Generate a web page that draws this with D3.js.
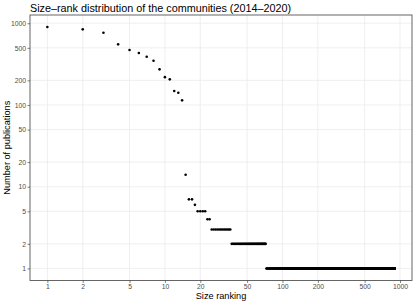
<!DOCTYPE html>
<html>
<head>
<meta charset="utf-8">
<script src="https://cdn.jsdelivr.net/npm/d3@7"></script>
<style>
  body { margin: 0; background: #fff; }
  text { font-family: "Liberation Sans", Arial, sans-serif; }
</style>
</head>
<body>
<div id="chart"></div>
<script>
var w = 415,
	h = 302;

// community sizes of the largest communities, by rank
var topSizes = [898, 842, 765, 552, 470, 432, 389, 348, 273, 219, 206, 148, 141, 114,
	14, 7, 7, 6, 5, 5, 5, 5, 4, 4];
// the small ones: size and how many communities have that size
var smallSizes = [3, 2, 1];
var smallCounts = [12, 36, 828];

var xTicks = [1, 2, 5, 10, 20, 50, 100, 200, 500, 1000];
var yTicks = [1, 2, 5, 10, 20, 50, 100, 200, 500, 1000];

// size-rank table
var data = topSizes.slice();
smallSizes.forEach(function(s, i){
	for (var k = 0; k < smallCounts[i]; k++) data.push(s);
});
data = data.map(function(v, i){ return {rank: i + 1, size: v}; });

var margin = {top: 15, right: 3, bottom: 21.5, left: 30};
var pw = w - margin.left - margin.right,
	ph = h - margin.top - margin.bottom;

// ggplot-like 5% expansion in log space
var xMax = d3.max(data, function(d){ return d.rank; }),
	yMax = d3.max(data, function(d){ return d.size; });
var lx = Math.log10(xMax) * 0.05,
	ly = Math.log10(yMax) * 0.05;

var x = d3.scaleLog()
	.domain([Math.pow(10, -lx), Math.pow(10, Math.log10(xMax) + lx)])
	.range([0, pw]);
var y = d3.scaleLog()
	.domain([Math.pow(10, -ly), Math.pow(10, Math.log10(yMax) + ly)])
	.range([ph, 0]);

var svg = d3.select("#chart").append("svg")
	.attr("width", w)
	.attr("height", h);

svg.append("text")
	.attr("x", 30)
	.attr("y", 11.5)
	.attr("font-size", "10.8px")
	.attr("fill", "#000")
	.text("Size\u2013rank distribution of the communities (2014\u20132020)");

var g = svg.append("g")
	.attr("transform", "translate(" + margin.left + "," + margin.top + ")");

//grid
g.selectAll(".vgrid")
	.data(xTicks)
	.enter()
	.append("line")
	.attr("x1", function(d){ return x(d); })
	.attr("x2", function(d){ return x(d); })
	.attr("y1", 0)
	.attr("y2", ph)
	.attr("stroke", "#ebebeb")
	.attr("stroke-width", 0.8);

g.selectAll(".hgrid")
	.data(yTicks)
	.enter()
	.append("line")
	.attr("y1", function(d){ return y(d); })
	.attr("y2", function(d){ return y(d); })
	.attr("x1", 0)
	.attr("x2", pw)
	.attr("stroke", "#ebebeb")
	.attr("stroke-width", 0.8);

//points
g.selectAll("circle")
	.data(data)
	.enter()
	.append("circle")
	.attr("cx", function(d){ return x(d.rank); })
	.attr("cy", function(d){ return y(d.size); })
	.attr("r", 1.3)
	.attr("fill", "#000");

//border
g.append("rect")
	.attr("width", pw)
	.attr("height", ph)
	.attr("fill", "none")
	.attr("stroke", "#555")
	.attr("stroke-width", 0.9);

//axes
var xAxis = g.append("g")
	.attr("transform", "translate(0," + ph + ")")
	.call(d3.axisBottom(x).tickValues(xTicks).tickFormat(d3.format("d")).tickSize(2.5).tickPadding(1.2));
var yAxis = g.append("g")
	.call(d3.axisLeft(y).tickValues(yTicks).tickFormat(d3.format("d")).tickSize(2.5).tickPadding(1.5));

[xAxis, yAxis].forEach(function(a){
	a.select(".domain").remove();
	a.selectAll("line").attr("stroke", "#333").attr("stroke-width", 0.6);
	a.selectAll("text")
		.attr("font-family", "Liberation Sans, Arial, sans-serif")
		.attr("font-size", "6.8px")
		.attr("fill", "#4d4d4d");
});

svg.append("text")
	.attr("x", margin.left + pw / 2)
	.attr("y", 298.5)
	.attr("text-anchor", "middle")
	.attr("font-size", "9.2px")
	.attr("fill", "#000")
	.text("Size ranking");

svg.append("text")
	.attr("transform", "translate(10," + (margin.top + ph / 2) + ") rotate(-90)")
	.attr("text-anchor", "middle")
	.attr("font-size", "9.2px")
	.attr("fill", "#000")
	.text("Number of publications");
</script>
</body>
</html>
